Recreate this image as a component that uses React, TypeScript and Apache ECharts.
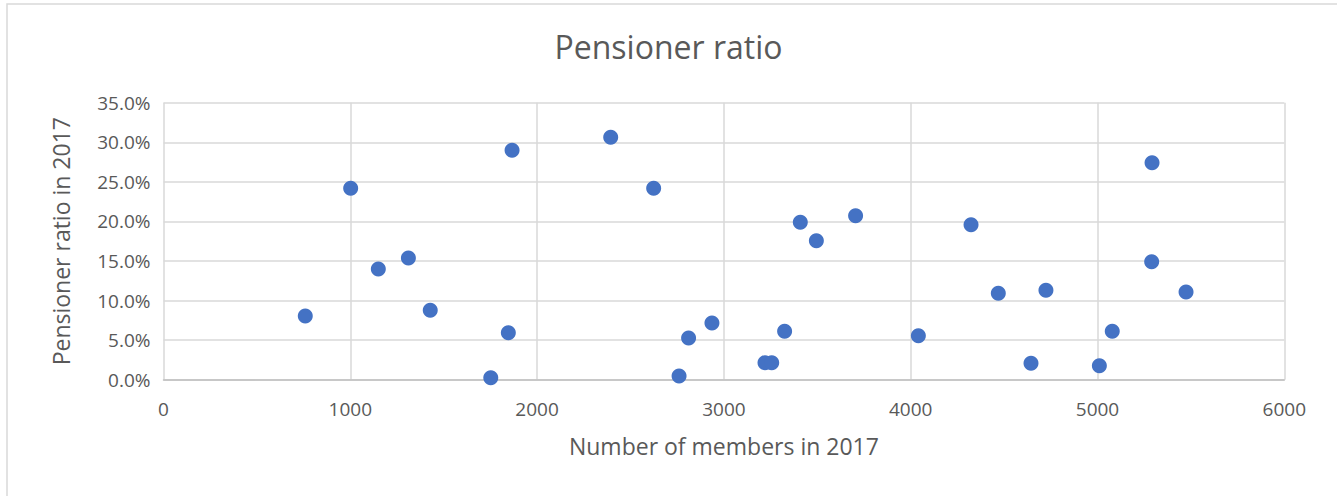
import React, { useEffect, useRef } from "react";
import * as echarts from "echarts";

const members: number[] = [
  759, 1002, 1150, 1311, 1428, 1866, 1846, 1752, 2394, 2624, 2760, 2811, 2936,
  3220, 3256, 3325, 3409, 3495, 3705, 4041, 4323, 4469, 4644, 4724, 5010, 5079,
  5292, 5290, 5474,
];
const ratioPct: number[] = [
  8.05, 24.18, 13.99, 15.38, 8.77, 28.98, 5.94, 0.25, 30.63, 24.18, 0.47, 5.27,
  7.16, 2.15, 2.15, 6.11, 19.89, 17.57, 20.73, 5.56, 19.59, 10.91, 2.07, 11.29,
  1.77, 6.11, 27.42, 14.91, 11.08,
];
const titleText = "Pensioner ratio";
const xAxisName = "Number of members in 2017";
const yAxisName = "Pensioner ratio in 2017";

const FONT = "'Open Sans', 'Noto Sans', sans-serif";
const TEXT = "#595959";
const GRID = "#d9d9d9";

export default function App() {
  const ref = useRef<HTMLDivElement>(null);
  useEffect(() => {
    if (!ref.current) return;
    const chart = echarts.init(ref.current, null, { renderer: "svg" });
    const data = members.map((m, i) => [m, ratioPct[i]]);
    chart.setOption({
      animation: false,
      backgroundColor: "#ffffff",
      textStyle: { fontFamily: FONT },
      title: {
        text: titleText,
        left: "center",
        top: 25,
        textStyle: { fontFamily: FONT, fontSize: 32, fontWeight: "normal", color: TEXT },
      },
      graphic: [
        {
          type: "rect",
          shape: { x: 7, y: 4, width: 1400, height: 600 },
          style: { fill: "none", stroke: GRID, lineWidth: 1.5 },
          silent: true,
        },
      ],
      grid: { left: 163.5, right: 52.7, top: 102.7, bottom: 116.3, containLabel: false },
      xAxis: {
        type: "value",
        min: 0,
        max: 6000,
        interval: 1000,
        name: xAxisName,
        nameLocation: "middle",
        nameGap: 55,
        nameTextStyle: { fontFamily: FONT, fontSize: 23, color: TEXT },
        axisLine: { show: true, lineStyle: { color: "#bfbfbf", width: 1.5 } },
        axisTick: { show: false },
        axisLabel: {
          fontFamily: FONT,
          fontSize: 19,
          color: TEXT,
          margin: 20,
          formatter: (v: number) => String(v),
        },
        splitLine: { show: true, lineStyle: { color: GRID, width: 1.5 } },
      },
      yAxis: {
        type: "value",
        min: 0,
        max: 35,
        interval: 5,
        name: yAxisName,
        nameLocation: "middle",
        nameGap: 91,
        nameRotate: 90,
        nameTextStyle: { fontFamily: FONT, fontSize: 23, color: TEXT },
        axisLine: { show: false },
        axisTick: { show: false },
        axisLabel: {
          fontFamily: FONT,
          fontSize: 19,
          color: TEXT,
          margin: 13,
          formatter: (v: number) => v.toFixed(1) + "%",
        },
        splitLine: { show: true, lineStyle: { color: GRID, width: 1.5 } },
      },
      series: [
        {
          type: "scatter",
          data,
          symbol: "circle",
          symbolSize: 15,
          itemStyle: { color: "#4472C4", opacity: 1 },
        },
      ],
    });
    return () => chart.dispose();
  }, []);
  return (
    <div
      ref={ref}
      style={{ position: "fixed", left: 0, top: 0, width: 1337, height: 496 }}
    />
  );
}
